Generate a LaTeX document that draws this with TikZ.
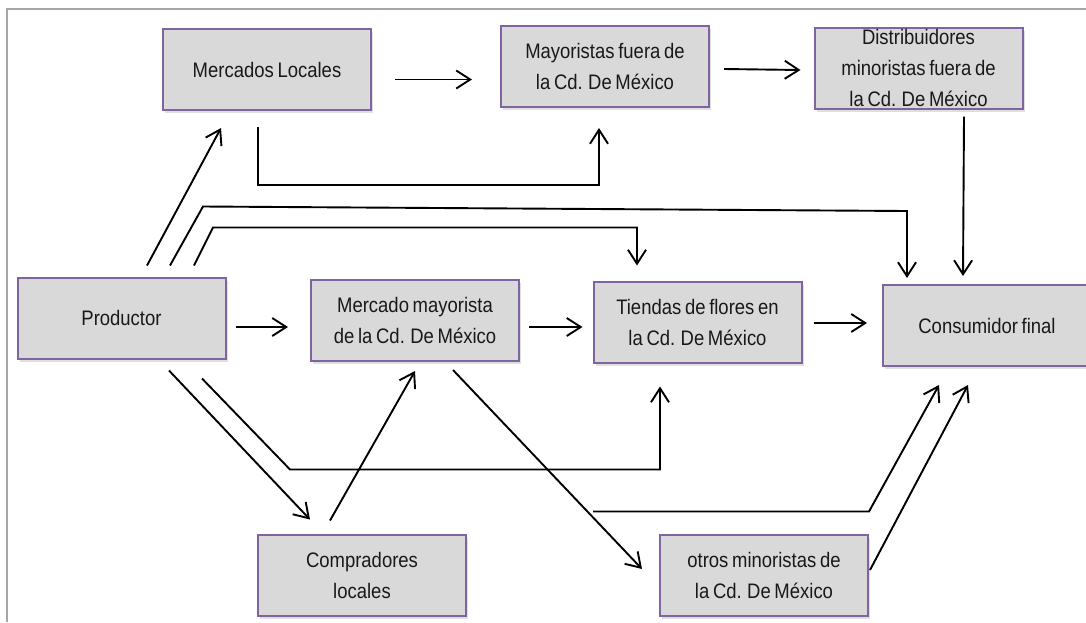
\documentclass[tikz,border=0pt]{standalone}
\usepackage{fontspec}
\setmainfont[FakeStretch=0.88,WordSpace=0.72]{Liberation Sans}
\usetikzlibrary{arrows.meta,calc,shadows}
\definecolor{boxfill}{RGB}{217,217,217}
\definecolor{boxedge}{RGB}{128,100,162}
\definecolor{framegray}{RGB}{166,166,166}
\begin{document}
\begin{tikzpicture}[x=1pt,y=-1pt,
  box/.style={draw=boxedge,line width=2pt,fill=boxfill,
    minimum width=208pt,minimum height=81pt,inner sep=0pt,align=center,
    font=\fontsize{21}{31}\selectfont,text=black!90,
    drop shadow={shadow xshift=2pt,shadow yshift=-3pt,opacity=0.25}},
  arr/.style={line width=1.9pt,-{Straight Barb[length=14pt,width=18pt]}},
  link/.style={line width=1.9pt}]
\clip (0,0) rectangle (1086,622);
\fill[white] (0,0) rectangle (1086,622);
% page frame
\draw[framegray,line width=2pt] (7,622) -- (7,9) -- (1086,9);

% boxes
\node[box] (ML) at (267,69.5)  {Mercados Locales};
\node[box] (MF) at (605,66.5)  {Mayoristas fuera de\\la Cd. De México};
\node[box] (DM) at (918.5,68){Distribuidores\\minoristas fuera de\\la Cd. De México};
\node[box] (P)  at (121.5,318) {Productor};
\node[box] (MM) at (415,320.5) {Mercado mayorista\\de la Cd. De México};
\node[box] (T)  at (697.5,322) {Tiendas de flores en\\la Cd. De México};
\node[box] (CF) at (987,325.5) {Consumidor final};
\node[box] (CL) at (362,575)   {Compradores\\locales};
\node[box] (OM) at (764,575)   {otros minoristas de\\la Cd. De México};

% top row
\draw[arr] ($(ML.east)+(23,10)$) -- ($(MF.west)+(-28,13)$);
\draw[arr] ($(MF.east)+(14,2.5)$) -- ($(DM.west)+(-13,2)$);
\draw[arr] ($(ML.south)+(-9,16)$) |- ($(MF.south)+(-6,77)$) -- ($(MF.south)+(-6,20)$);
\draw[arr] ($(DM.south)+(45.5,7)$) -- ($(CF.north west)+(81,-8)$);

% from the producer upwards
\draw[arr] ($(P.north)+(25.5,-11)$) -- ($(ML.south)+(-46,17)$);
\draw[arr] ($(P.north)+(48.5,-11)$) -- ($(P.north)+(81.5,-70)$)
  -- ($(CF.north west)+(25,-73)$) -- ($(CF.north west)+(25,-6)$);
\draw[arr] ($(P.north)+(72.5,-11)$) -- ($(P.north)+(91.5,-49)$)
  -| ($(T.north)+(-60.5,-15)$);

% middle row
\draw[arr] ($(P.east)+(9,9)$) -- ($(MM.west)+(-22,6.5)$);
\draw[arr] ($(MM.east)+(9,6.5)$) -- ($(T.west)+(-10,5)$);
\draw[arr] ($(T.east)+(11,1)$) -- ($(CF.west)+(-15,-2.5)$);

% from the producer downwards
\draw[arr] ($(P.south)+(47.5,11)$) -- ($(CL.north)+(-52,-14)$);
\draw[arr] ($(P.south)+(80.5,19)$) -- ($(P.south)+(168.5,110)$)
  -| ($(T.south)+(-37.5,23)$);
\draw[arr] ($(CL.north)+(-32,-13)$) -- ($(MM.south)+(0,9)$);

% wholesale market to other retailers and on to the consumer
\draw[arr] ($(MM.south)+(38,8)$) -- ($(OM.west)+(-17,-6)$);
\coordinate (OB) at ($(OM.north west)+(-66,-22)$);
\draw[arr] (OB) -- ($(OM.north east)+(0,-22)$) -- ($(CF.south)+(-48,18)$);
\draw[arr] ($(OM.east)+(1,-5)$) -- ($(CF.south)+(-19,18)$);
\end{tikzpicture}
\end{document}
